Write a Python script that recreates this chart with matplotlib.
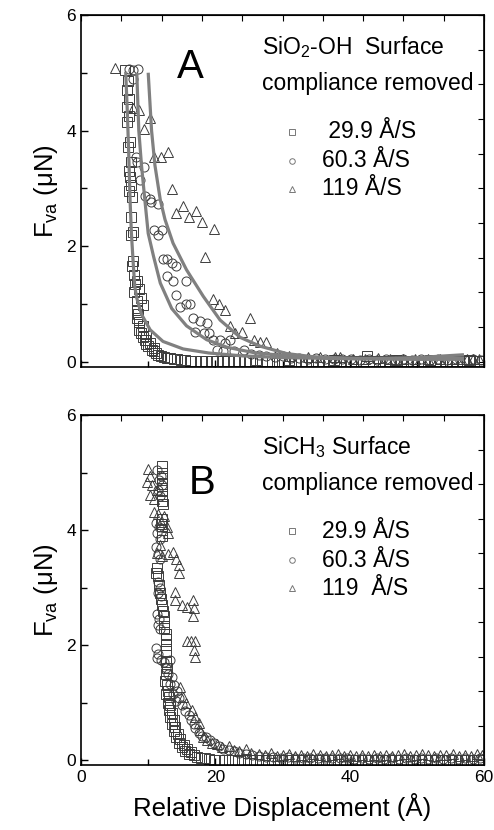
import numpy as np
import matplotlib

matplotlib.use("Agg")
import matplotlib.pyplot as plt  # noqa: E402
from matplotlib.ticker import MultipleLocator, NullFormatter  # noqa: E402

plt.rcParams["font.family"] = ["Liberation Sans", "DejaVu Sans"]
plt.rcParams["mathtext.default"] = "regular"

# ---- panel A (SiO2-OH) : scatter ----
sq_a = [(6.6, 5.05), (7.0, 4.85), (6.8, 4.7), (7.1, 4.55), (6.9, 4.4), (7.2, 4.25),
        (6.9, 4.15), (7.3, 3.8), (7.0, 3.72), (7.4, 3.45), (7.1, 3.3), (7.3, 3.2),
        (7.5, 3.05), (7.2, 2.95), (7.6, 2.85), (7.4, 2.5), (7.7, 2.25), (7.5, 2.2),
        (7.8, 1.75), (7.6, 1.65), (7.9, 1.5), (8.3, 1.4), (8.0, 1.35), (8.6, 1.25),
        (7.9, 1.2), (8.9, 1.1), (8.3, 1.05), (9.2, 0.98), (8.4, 0.9), (8.5, 0.82),
        (8.3, 0.75), (8.6, 0.68), (9.3, 0.62), (8.7, 0.55), (9.0, 0.5), (9.6, 0.45),
        (9.3, 0.42), (9.5, 0.38), (10.2, 0.33), (9.7, 0.3), (10.0, 0.27), (10.9, 0.24),
        (10.5, 0.2), (10.8, 0.18), (11.2, 0.15), (11.5, 0.12), (11.9, 0.1), (12.3, 0.08),
        (12.8, 0.07), (13.2, 0.06), (13.8, 0.05), (14.3, 0.04), (14.9, 0.03), (15.5, 0.03),
        (16.2, 0.02), (17.0, 0.02), (17.8, 0.02), (18.6, 0.01), (19.5, 0.01),
        (20.3, 0.02), (21.1, 0.01), (21.9, 0.02), (22.7, 0.01), (23.5, 0.02), (24.4, 0.01),
        (25.2, 0.02), (26.0, 0.03), (26.9, 0.01), (27.7, 0.02), (28.5, 0.01), (29.4, 0.02),
        (30.2, 0.01), (31.0, 0.03), (31.9, 0.02), (32.7, 0.01), (33.5, 0.02), (34.4, 0.01),
        (35.2, 0.02), (36.0, 0.01), (36.9, 0.02), (37.7, 0.03), (38.5, 0.01), (39.4, 0.02),
        (40.2, 0.01), (41.0, 0.02), (41.9, 0.01), (42.5, 0.10), (43.5, 0.02), (44.4, 0.01),
        (45.2, 0.02), (46.0, 0.01), (46.9, 0.03), (47.7, 0.02), (48.5, 0.01), (49.4, 0.02),
        (50.2, 0.01), (51.0, 0.02), (51.9, 0.03), (52.7, 0.01), (53.5, 0.02), (54.4, 0.01),
        (55.2, 0.02), (56.0, 0.01), (56.9, 0.02), (57.7, 0.03), (58.5, 0.01), (59.4, 0.02)]

ci_a = [(7.1, 5.06), (7.8, 5.05), (8.5, 5.06), (7.8, 4.9), (8.2, 3.55), (8.4, 3.45),
        (9.4, 3.36), (8.8, 3.15), (9.5, 2.86), (10.3, 2.81), (10.4, 2.77), (11.4, 2.72),
        (10.8, 2.28), (11.5, 2.2), (12.0, 2.28), (12.25, 1.78), (12.8, 1.78), (13.5, 1.7),
        (14.2, 1.65), (12.75, 1.49), (13.7, 1.4), (15.6, 1.4), (14.2, 1.15), (15.6, 1.0),
        (16.2, 1.0), (14.8, 0.95), (16.7, 0.76), (17.7, 0.7), (18.7, 0.67), (17.0, 0.52),
        (18.3, 0.5), (19.1, 0.5), (19.6, 0.38), (20.7, 0.38), (21.4, 0.32), (22.2, 0.38),
        (20.2, 0.21), (21.2, 0.18), (22.7, 0.18), (24.2, 0.2), (25.3, 0.14), (26.5, 0.12),
        (27.6, 0.1), (28.8, 0.08), (30.0, 0.09), (31.3, 0.06), (32.5, 0.07), (33.8, 0.05),
        (35.0, 0.06), (36.3, 0.04), (37.6, 0.05), (38.9, 0.04), (40.2, 0.05), (41.5, 0.03),
        (42.8, 0.04), (44.1, 0.03), (45.4, 0.04), (46.7, 0.03), (48.0, 0.04), (49.3, 0.03),
        (50.6, 0.04), (51.9, 0.03), (53.2, 0.04), (54.5, 0.03), (55.8, 0.04), (57.1, 0.03),
        (58.4, 0.04), (59.6, 0.03)]

tr_a = [(5.06, 5.08), (7.7, 4.39), (8.6, 4.36), (9.4, 4.02), (10.3, 4.21), (10.9, 3.55),
        (11.9, 3.54), (12.9, 3.62), (13.5, 2.98), (14.1, 2.57), (15.2, 2.69), (16.1, 2.51),
        (17.1, 2.61), (18.0, 2.41), (19.8, 2.29), (18.5, 1.81), (19.7, 1.09), (20.6, 1.0),
        (21.4, 0.9), (22.2, 0.61), (22.9, 0.5), (23.9, 0.52), (25.2, 0.76), (25.7, 0.37),
        (26.6, 0.34), (27.5, 0.34), (29.1, 0.15), (30.9, 0.09), (33.8, 0.08), (35.5, 0.08),
        (37.8, 0.08), (38.6, 0.08), (40.5, 0.05), (42.3, 0.04), (44.2, 0.06), (46.0, 0.04),
        (47.9, 0.05), (49.7, 0.04), (51.6, 0.05), (53.4, 0.04), (55.2, 0.05), (56.6, 0.04),
        (57.5, 0.04), (58.4, 0.04), (59.3, 0.04)]

# fitted curves, panel A
fit_a1 = [(6.65, 5.02), (6.9, 4.3), (7.1, 3.6), (7.3, 2.8), (7.5, 2.22), (7.8, 1.65),
          (8.0, 1.3), (8.3, 1.1), (9.0, 0.82), (10.3, 0.55), (12.2, 0.35), (15.2, 0.22),
          (19.0, 0.15), (24.0, 0.1), (30.0, 0.07), (40.0, 0.05), (50.0, 0.04), (57.0, 0.04)]
fit_a2 = [(8.3, 5.0), (8.6, 4.0), (9.0, 3.4), (9.5, 2.8), (10.0, 2.22), (10.8, 1.82),
          (11.8, 1.36), (13.5, 0.92), (15.7, 0.62), (18.7, 0.38), (21.7, 0.25), (26.0, 0.15),
          (32.0, 0.09), (40.0, 0.06), (50.0, 0.05), (57.0, 0.06)]
fit_a3 = [(10.0, 5.0), (10.5, 4.0), (11.0, 3.4), (11.8, 2.8), (12.5, 2.46), (13.7, 2.05),
          (15.7, 1.59), (18.2, 1.13), (20.7, 0.72), (23.7, 0.42), (26.6, 0.27), (30.6, 0.14),
          (35.6, 0.07), (42.0, 0.05), (50.0, 0.07), (57.0, 0.12)]

# ---- panel B (SiCH3) ----
sq_b = [(12.1, 5.12), (12.0, 5.0), (12.1, 4.9), (12.0, 4.8), (12.1, 4.7), (12.0, 4.6),
        (12.1, 4.5), (12.2, 4.45), (12.0, 4.2), (11.9, 4.1), (12.0, 4.0), (12.1, 3.9),
        (11.3, 3.35), (11.2, 3.25), (11.5, 3.2), (11.6, 3.05), (11.8, 2.9), (11.9, 2.8),
        (12.0, 2.7), (12.2, 2.6), (12.3, 2.5), (12.4, 2.4), (12.4, 2.3), (12.6, 2.2),
        (12.6, 2.1), (12.6, 2.0), (12.7, 1.9), (12.6, 1.7), (12.8, 1.6), (12.7, 1.5),
        (12.5, 1.38), (12.8, 1.3), (13.0, 1.2), (12.6, 1.15), (13.1, 1.1), (12.9, 1.0),
        (13.3, 0.95), (13.1, 0.88), (13.5, 0.82), (13.3, 0.75), (13.8, 0.7), (13.6, 0.62),
        (14.0, 0.58), (13.9, 0.5), (14.4, 0.45), (14.2, 0.4), (14.8, 0.36), (14.6, 0.3),
        (15.3, 0.27), (15.0, 0.22), (15.8, 0.2), (15.5, 0.15), (16.3, 0.14), (16.0, 0.1),
        (16.8, 0.08), (17.3, 0.06), (17.8, 0.04), (18.4, 0.03), (19.0, 0.02), (19.8, 0.01),
        (20.6, 0.01), (21.5, 0.0), (22.4, 0.01), (23.3, 0.0), (24.2, 0.01), (25.1, 0.0),
        (26.0, 0.01), (26.9, 0.0), (27.8, 0.01), (28.7, 0.0), (29.6, 0.01), (30.5, 0.0),
        (31.4, 0.01), (32.3, 0.0), (33.2, 0.01), (34.1, 0.0), (35.0, 0.01), (35.9, 0.0),
        (36.8, 0.01), (37.7, 0.0), (38.6, 0.01), (39.5, 0.0), (40.4, 0.01), (41.3, 0.0),
        (42.2, 0.01), (43.1, 0.0), (44.0, 0.01), (44.9, 0.0), (45.8, 0.01), (46.7, 0.0),
        (47.6, 0.01), (48.5, 0.0), (49.4, 0.01), (50.3, 0.0), (51.2, 0.01), (52.1, 0.0),
        (53.0, 0.01), (53.9, 0.0), (54.8, 0.01), (55.7, 0.0), (56.6, 0.01), (57.5, 0.0),
        (58.4, 0.01), (59.3, 0.0)]

ci_b = [(11.3, 5.04), (11.9, 4.95), (11.6, 4.88), (12.0, 4.78), (11.5, 4.7), (11.8, 4.6),
        (11.2, 4.12), (11.6, 4.05), (11.3, 3.95), (11.7, 3.85), (11.2, 3.7), (11.5, 3.58),
        (11.8, 3.5), (11.4, 3.1), (11.7, 3.0), (11.5, 2.9), (11.9, 2.85), (11.3, 2.55),
        (11.6, 2.45), (11.4, 2.35), (11.8, 2.28), (11.2, 1.95), (11.4, 1.85), (11.3, 1.78),
        (11.9, 1.75), (12.3, 1.7), (13.2, 1.74), (12.6, 1.6), (12.9, 1.5), (13.5, 1.45),
        (13.2, 1.32), (13.9, 1.3), (14.3, 1.2), (13.7, 1.15), (14.6, 1.08), (14.2, 1.02),
        (15.0, 0.95), (15.5, 0.85), (16.0, 0.78), (16.3, 0.7), (16.8, 0.62), (17.0, 0.55),
        (17.5, 0.48), (18.0, 0.42), (18.6, 0.4), (19.2, 0.35), (19.8, 0.3), (20.5, 0.25),
        (21.2, 0.2), (22.0, 0.18), (22.8, 0.15), (23.5, 0.12), (24.5, 0.1), (25.5, 0.08),
        (26.5, 0.07), (27.5, 0.06), (28.6, 0.05), (29.7, 0.04), (30.8, 0.05), (31.9, 0.03),
        (33.0, 0.04), (34.1, 0.03), (35.2, 0.04), (36.3, 0.03), (37.4, 0.04), (38.5, 0.03),
        (39.6, 0.03), (40.7, 0.02), (41.8, 0.03), (42.9, 0.02), (44.0, 0.03), (45.1, 0.02),
        (46.2, 0.03), (47.3, 0.02), (48.4, 0.03), (49.5, 0.02), (50.6, 0.03), (51.7, 0.02),
        (52.8, 0.03), (53.9, 0.02), (55.0, 0.03), (56.1, 0.02), (57.2, 0.03), (58.3, 0.02),
        (59.4, 0.03)]

tr_b = [(10.0, 5.07), (10.3, 4.95), (9.8, 4.84), (10.6, 4.78), (11.3, 4.7), (10.2, 4.62),
        (10.9, 4.55), (10.8, 4.32), (11.4, 4.28), (12.4, 4.25), (11.9, 4.15), (12.75, 4.06),
        (12.9, 3.95), (11.7, 3.75), (11.3, 3.6), (12.0, 3.55), (13.0, 3.58), (13.7, 3.62),
        (14.2, 3.5), (14.6, 3.4), (14.6, 3.25), (14.0, 2.93), (14.0, 2.78), (15.0, 2.7),
        (15.8, 2.66), (16.7, 2.78), (16.8, 2.65), (16.6, 2.5), (15.8, 2.08), (16.3, 2.08),
        (16.9, 2.08), (16.8, 1.92), (16.9, 1.8), (14.7, 1.27), (15.2, 1.1), (15.7, 0.99),
        (16.5, 0.87), (17.0, 0.75), (17.5, 0.64), (17.7, 0.52), (18.2, 0.41), (18.8, 0.35),
        (19.5, 0.3), (20.3, 0.28), (21.0, 0.22), (22.0, 0.25), (22.8, 0.18), (23.5, 0.15),
        (24.5, 0.2), (25.3, 0.12), (26.5, 0.1), (27.4, 0.08), (28.3, 0.12), (29.2, 0.07),
        (30.1, 0.09), (31.0, 0.11), (31.9, 0.07), (32.8, 0.09), (33.7, 0.07), (34.6, 0.11),
        (35.5, 0.08), (36.4, 0.07), (37.3, 0.09), (38.2, 0.11), (39.1, 0.07), (40.0, 0.08),
        (40.9, 0.07), (41.8, 0.09), (42.7, 0.07), (43.6, 0.08), (44.5, 0.07), (45.4, 0.09),
        (46.3, 0.07), (47.2, 0.08), (48.1, 0.11), (49.0, 0.07), (49.9, 0.09), (50.8, 0.11),
        (51.7, 0.08), (52.6, 0.07), (53.5, 0.09), (54.4, 0.08), (55.3, 0.11), (56.2, 0.07),
        (57.1, 0.08), (58.0, 0.07), (58.9, 0.11), (59.7, 0.08)]

rates = [" 29.9 Å/S", "60.3 Å/S", "119 Å/S"]
rates_b = ["29.9 Å/S", "60.3 Å/S", "119  Å/S"]
markers = ["s", "o", "^"]

EDGE = "#3c3c3c"
CURVE = "#808080"
FS = 16.5


def _xy(pairs):
    a = np.asarray(pairs, dtype=float)
    return a[:, 0], a[:, 1]


def _style(ax, show_xlabels):
    ax.set_xlim(0, 60)
    ax.set_ylim(-0.09, 6)
    ax.xaxis.set_major_locator(MultipleLocator(20))
    ax.xaxis.set_minor_locator(MultipleLocator(10))
    ax.yaxis.set_major_locator(MultipleLocator(2))
    ax.yaxis.set_minor_locator(MultipleLocator(1))
    ax.tick_params(which="both", direction="in", labelsize=12.5, width=1)
    ax.tick_params(which="major", length=5)
    ax.tick_params(which="minor", length=4)
    if not show_xlabels:
        ax.xaxis.set_major_formatter(NullFormatter())
    for s in ax.spines.values():
        s.set_linewidth(1.2)
    top = ax.secondary_xaxis("top")
    top.set_xticks(np.arange(0, 61, 6))
    top.tick_params(direction="in", length=4, labeltop=False)
    right = ax.secondary_yaxis("right")
    right.set_yticks(np.arange(0, 6.01, 0.6))
    right.tick_params(direction="in", length=4, labelright=False)
    ax.set_ylabel(r"F$_{va}$ ($\mu$N)", fontsize=18.5, labelpad=5)


def _legend(ax, title, labels):
    ax.text(27.0, 5.45, title, fontsize=FS, va="center", ha="left")
    ax.text(27.0, 4.81, "compliance removed", fontsize=FS, va="center", ha="left")
    for m, lab, yy in zip(markers, labels, [3.98, 3.48, 2.99]):
        ax.plot([31.4], [yy], m, ms=4, mfc="none", mec="#777777", mew=0.7)
        ax.text(35.8, yy, lab, fontsize=FS, va="center", ha="left")


fig = plt.figure(figsize=(4.94, 8.30), dpi=100)
ax_a = fig.add_axes([0.164, 0.558, 0.816, 0.424])
ax_b = fig.add_axes([0.164, 0.078, 0.816, 0.4217])

for ax, series in ((ax_a, (sq_a, ci_a, tr_a)), (ax_b, (sq_b, ci_b, tr_b))):
    for pairs, m in zip(series, markers):
        x, y = _xy(pairs)
        ax.plot(x, y, m, ms=6.5, mfc="none", mec=EDGE, mew=0.7, zorder=2)

for fit in (fit_a1, fit_a2, fit_a3):
    x, y = _xy(fit)
    ax_a.plot(x, y, "-", color=CURVE, lw=2.3, zorder=3, solid_capstyle="butt")

_style(ax_a, False)
_style(ax_b, True)
_legend(ax_a, "SiO$_2$-OH  Surface", rates)
_legend(ax_b, "SiCH$_3$ Surface", rates_b)
ax_a.text(16.3, 5.1, "A", fontsize=29, ha="center", va="center")
ax_b.text(18.0, 4.82, "B", fontsize=29, ha="center", va="center")
ax_b.set_xlabel("Relative Displacement (Å)", fontsize=18.5, labelpad=6)

fig.savefig("out.png", dpi=100)
